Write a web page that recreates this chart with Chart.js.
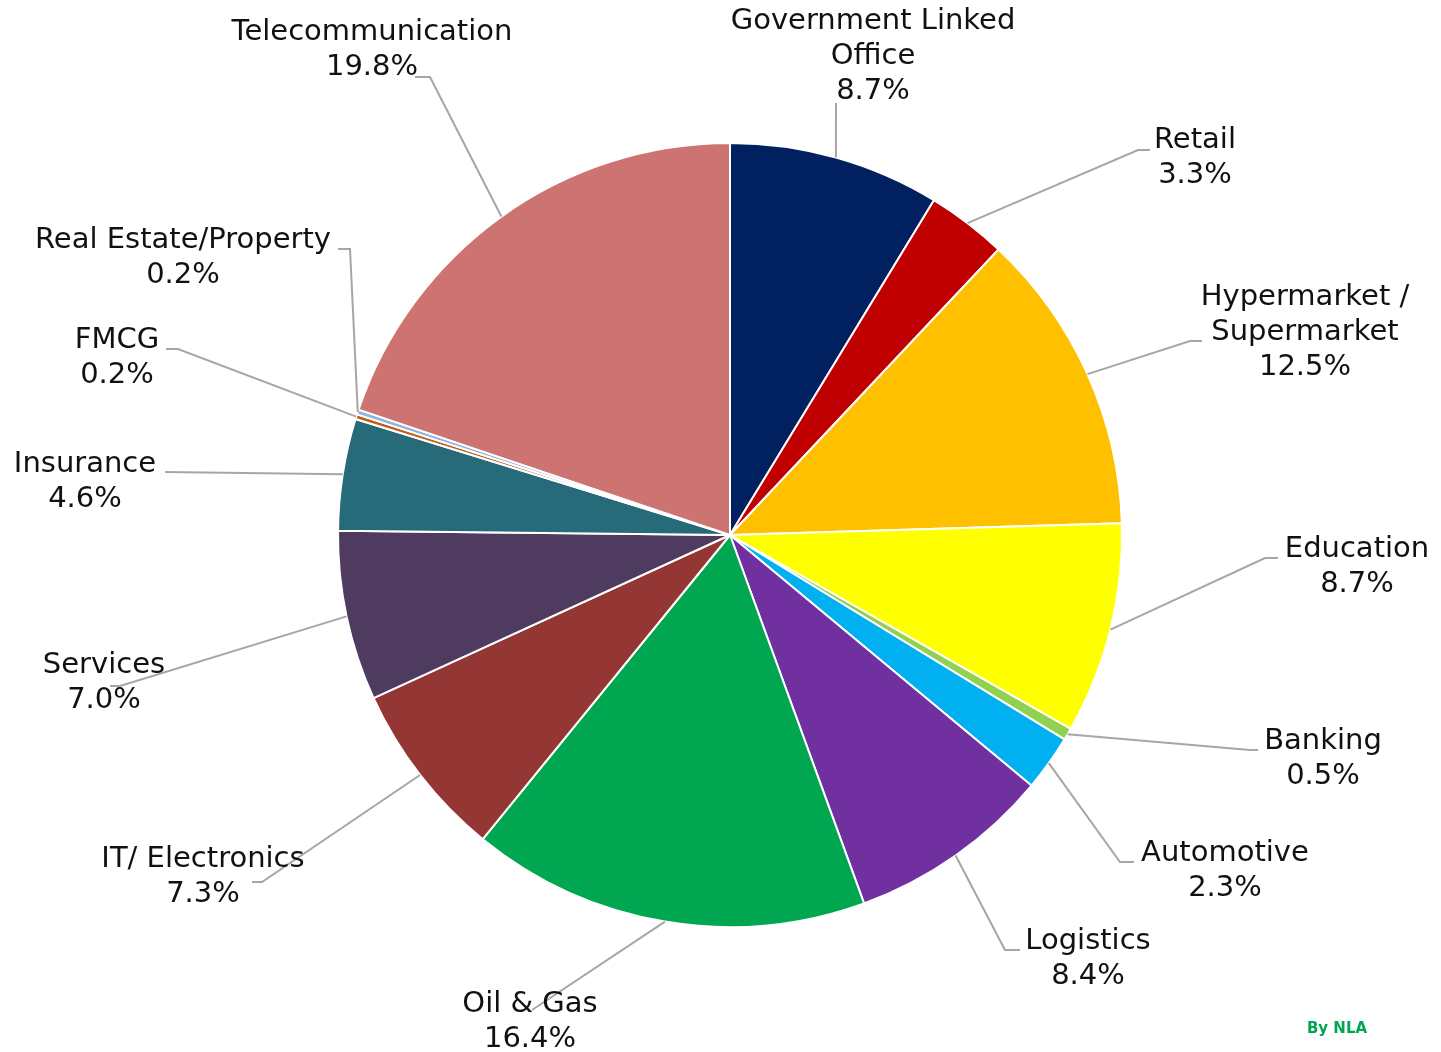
<!DOCTYPE html>
<html lang="en">
<head>
<meta charset="UTF-8">
<title>Industry Share</title>
<script src="https://cdn.jsdelivr.net/npm/chart.js"></script>
<style>
    body {
        margin: 0;
        padding: 0;
        background: #ffffff;
    }

    .chart-box {
        position: relative;
        width: 1441px;
        height: 1052px;
    }
</style>
</head>
<body>
<div class="chart-box">
    <canvas id="pieChart"></canvas>
</div>
<script>
    // data, clockwise from 12 o'clock
    var categories = ['Government Linked Office', 'Retail', 'Hypermarket / Supermarket', 'Education',
        'Banking', 'Automotive', 'Logistics', 'Oil & Gas', 'IT/ Electronics', 'Services',
        'Insurance', 'FMCG', 'Real Estate/Property', 'Telecommunication'];
    var shares = [8.7, 3.3, 12.5, 8.7, 0.5, 2.3, 8.4, 16.4, 7.3, 7.0, 4.6, 0.2, 0.2, 19.8];

    var sliceColors = ['#002060', '#C00000', '#FFC000', '#FFFF00', '#92D050', '#00B0F0', '#7030A0',
        '#00A650', '#943634', '#4E3B5F', '#276A7A', '#C55A11', '#8DB4E2', '#CD7371'];

    // label layout: first line centre [x, y], leader elbow [x, y, tailX]
    var labelAt = [[873, 21], [1195, 140], [1305, 297], [1357, 549], [1323, 741], [1225, 853],
        [1088, 941], [530, 1004], [203, 859], [104, 665], [85, 464], [117, 340], [183, 240], [372, 32]];
    var leaderTo = [[836, 103, 836], [1138, 150, 1150], [1190, 341, 1202], [1265, 558, 1278],
        [1250, 750, 1258], [1120, 862, 1134], [1005, 950, 1020], [532, 1010, 532],
        [262, 882, 252], [120, 686, 110], [165, 472, 165], [178, 349, 166], [350, 249, 338], [430, 77, 415]];
    var wrapped = { 0: ['Government Linked', 'Office'], 2: ['Hypermarket /', 'Supermarket'] };

    var labelFont = '29px "DejaVu Sans"';
    var lineGap = 35;

    var outsideLabels = {
        id: 'outsideLabels',
        afterDatasetsDraw: function (chart) {
            var ctx = chart.ctx;
            var arcs = chart.getDatasetMeta(0).data;
            ctx.save();
            arcs.forEach(function (arc, i) {
                var mid = (arc.startAngle + arc.endAngle) / 2;
                var sx = arc.x + Math.cos(mid) * arc.outerRadius;
                var sy = arc.y + Math.sin(mid) * arc.outerRadius;
                var lt = leaderTo[i];
                ctx.strokeStyle = '#A6A6A6';
                ctx.lineWidth = 2;
                ctx.beginPath();
                ctx.moveTo(sx, sy);
                ctx.lineTo(lt[0], lt[1]);
                ctx.lineTo(lt[2], lt[1]);
                ctx.stroke();

                var lines = (wrapped[i] || [categories[i]]).concat([shares[i].toFixed(1) + '%']);
                ctx.fillStyle = '#111111';
                ctx.font = labelFont;
                ctx.textAlign = 'center';
                ctx.textBaseline = 'middle';
                lines.forEach(function (txt, k) {
                    ctx.fillText(txt, labelAt[i][0], labelAt[i][1] + k * lineGap);
                });
            });

            ctx.fillStyle = '#00A650';
            ctx.font = 'bold 15px "DejaVu Sans"';
            ctx.textAlign = 'center';
            ctx.fillText('By NLA', 1337, 1029);
            ctx.restore();
        }
    };

    var ctx = document.getElementById('pieChart').getContext('2d');
    var pieChart = new Chart(ctx, {
        type: 'pie',
        data: {
            labels: categories,
            datasets: [{
                data: shares,
                backgroundColor: sliceColors,
                borderColor: '#ffffff',
                borderWidth: 2
            }]
        },
        options: {
            responsive: true,
            maintainAspectRatio: false,
            animation: false,
            layout: {
                padding: { left: 337, right: 318, top: 142, bottom: 124 }
            },
            plugins: {
                legend: { display: false },
                tooltip: { enabled: false }
            }
        },
        plugins: [outsideLabels]
    });
</script>
</body>
</html>
